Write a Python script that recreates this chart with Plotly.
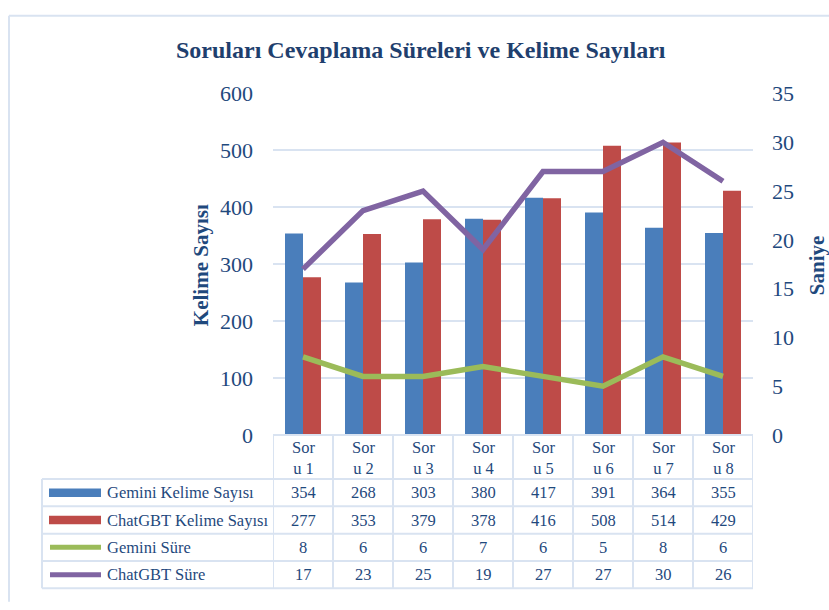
import plotly.graph_objects as go

categories = ["Soru 1", "Soru 2", "Soru 3", "Soru 4", "Soru 5", "Soru 6", "Soru 7", "Soru 8"]
header_labels = ["Sor<br>u 1", "Sor<br>u 2", "Sor<br>u 3", "Sor<br>u 4", "Sor<br>u 5", "Sor<br>u 6", "Sor<br>u 7", "Sor<br>u 8"]
gemini_words = [354, 268, 303, 380, 417, 391, 364, 355]
chatgbt_words = [277, 353, 379, 378, 416, 508, 514, 429]
gemini_time = [8, 6, 6, 7, 6, 5, 8, 6]
chatgbt_time = [17, 23, 25, 19, 27, 27, 30, 26]
series_names = ["Gemini Kelime Sayısı", "ChatGBT Kelime Sayısı", "Gemini Süre", "ChatGBT Süre"]
left_ticks = [0, 100, 200, 300, 400, 500, 600]
right_ticks = [0, 5, 10, 15, 20, 25, 30, 35]

W, H = 829, 610
BLUE = "#4A7EBB"
RED = "#BE4B48"
GREEN = "#9BBB59"
PURPLE = "#8064A2"
TXT = "#1F497D"
GRID = "#D9E3F1"
FONT = "Liberation Serif"

def px(x):
    return x / W

def py(y):
    return 1 - y / H

fig = go.Figure()
fig.add_trace(go.Bar(x=categories, y=gemini_words, name=series_names[0], marker_color=BLUE, marker_line_width=0))
fig.add_trace(go.Bar(x=categories, y=chatgbt_words, name=series_names[1], marker_color=RED, marker_line_width=0))
fig.add_trace(go.Scatter(x=categories, y=gemini_time, name=series_names[2], mode="lines",
                         line=dict(color=GREEN, width=5.5), yaxis="y2"))
fig.add_trace(go.Scatter(x=categories, y=chatgbt_time, name=series_names[3], mode="lines",
                         line=dict(color=PURPLE, width=5.5), yaxis="y2"))

plot_l, plot_r, plot_t, plot_b = 273, 753, 85, 441
fig.update_layout(
    width=W, height=H,
    margin=dict(l=0, r=0, t=0, b=0),
    paper_bgcolor="white", plot_bgcolor="white",
    showlegend=False,
    barmode="group", bargap=0.4, bargroupgap=0,
    font=dict(family=FONT, color=TXT),
    xaxis=dict(domain=[px(plot_l), px(plot_r)], showticklabels=False, showgrid=False,
               showline=False, zeroline=False, ticks="", range=[-0.5, 7.5]),
    yaxis=dict(domain=[py(plot_b), py(plot_t)], range=[0, 600], tickvals=left_ticks,
               showgrid=True, gridcolor=GRID, gridwidth=2, zeroline=False, showline=False,
               ticks="", tickfont=dict(size=22, color=TXT, family=FONT), ticklabelstandoff=19),
    yaxis2=dict(overlaying="y", side="right", range=[0, 35], tickvals=right_ticks,
                showgrid=False, zeroline=False, showline=False, ticks="",
                tickfont=dict(size=22, color=TXT, family=FONT), ticklabelstandoff=18),
)

shapes = []
line_style = dict(color=GRID, width=2)
# outer frame
shapes.append(dict(type="line", xref="paper", yref="paper", x0=px(9), x1=px(W + 5), y0=py(4), y1=py(4), line=line_style))
shapes.append(dict(type="line", xref="paper", yref="paper", x0=px(9), x1=px(9), y0=py(4), y1=py(H + 5), line=line_style))
# table horizontal lines
row_y = [441, 487, 515.5, 544, 572.5, 601]
for i, yv in enumerate(row_y):
    x0 = plot_l if i == 0 else 42
    shapes.append(dict(type="line", xref="paper", yref="paper", x0=px(x0), x1=px(plot_r), y0=py(yv), y1=py(yv), line=line_style))
# table vertical lines at category boundaries
for k in range(len(categories) + 1):
    shapes.append(dict(type="line", xref="x", yref="paper", x0=k - 0.5, x1=k - 0.5, y0=py(441), y1=py(601), line=line_style))
shapes.append(dict(type="line", xref="paper", yref="paper", x0=px(42), x1=px(42), y0=py(487), y1=py(601), line=line_style))

# legend swatches
row_centers = [(row_y[i] + row_y[i + 1]) / 2 for i in range(1, 5)]
sw_colors = [BLUE, RED, GREEN, PURPLE]
for i, (yc, c) in enumerate(zip(row_centers, sw_colors)):
    if i < 2:
        shapes.append(dict(type="rect", xref="paper", yref="paper", x0=px(49), x1=px(101),
                           y0=py(yc + 4.5), y1=py(yc - 4.5), fillcolor=c, line=dict(width=0)))
    else:
        shapes.append(dict(type="line", xref="paper", yref="paper", x0=px(50), x1=px(101),
                           y0=py(yc), y1=py(yc), line=dict(color=c, width=5)))
fig.update_layout(shapes=shapes)

ann = []
ann.append(dict(text="<b>Soruları Cevaplama Süreleri ve Kelime Sayıları</b>", xref="paper", yref="paper",
                x=px(421), y=py(40), showarrow=False, xanchor="center", yanchor="middle",
                font=dict(size=24, color="#1F3F6E", family=FONT)))
ann.append(dict(text="<b>Kelime Sayısı</b>", xref="paper", yref="paper", x=px(201), y=py(264),
                showarrow=False, textangle=-90, xanchor="center", yanchor="middle",
                font=dict(size=21, color=TXT, family=FONT)))
ann.append(dict(text="<b>Saniye</b>", xref="paper", yref="paper", x=px(817), y=py(264),
                showarrow=False, textangle=-90, xanchor="center", yanchor="middle",
                font=dict(size=21, color=TXT, family=FONT)))
# header
for cat, lab in zip(categories, header_labels):
    ann.append(dict(text=lab, xref="x", yref="paper", x=cat, y=py(465), showarrow=False,
                    xanchor="center", yanchor="middle", font=dict(size=16.5, color=TXT, family=FONT)))
# rows
series_vals = [gemini_words, chatgbt_words, gemini_time, chatgbt_time]
for name, vals, yc in zip(series_names, series_vals, row_centers):
    ann.append(dict(text=name, xref="paper", yref="paper", x=px(105), y=py(yc), showarrow=False,
                    xanchor="left", yanchor="middle", font=dict(size=16.5, color=TXT, family=FONT)))
    for cat, v in zip(categories, vals):
        ann.append(dict(text=str(v), xref="x", yref="paper", x=cat, y=py(yc), showarrow=False,
                        xanchor="center", yanchor="middle", font=dict(size=16.5, color=TXT, family=FONT)))
fig.update_layout(annotations=ann)

fig.write_html("out.html", config={"displayModeBar": False},
               post_script="document.body.style.margin='0px';document.body.style.overflow='hidden';")
